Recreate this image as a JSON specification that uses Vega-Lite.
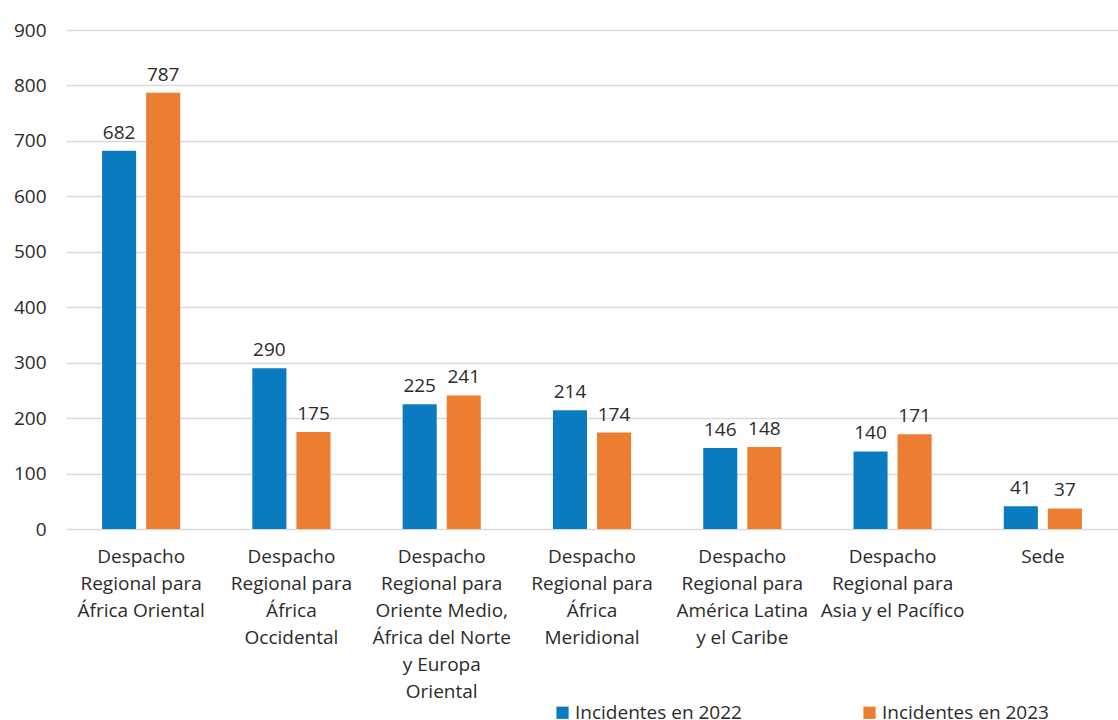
{
  "$schema": "https://vega.github.io/schema/vega-lite/v6.json",
  "width": 1052,
  "height": 499,
  "autosize": {"type": "none"},
  "padding": {"left": 66, "top": 30, "right": 0, "bottom": 191},
  "config": {
    "font": "Open Sans",
    "view": {"stroke": null},
    "axis": {"labelFont": "Open Sans", "labelFontSize": 19, "labelColor": "#2b2b2b"},
    "legend": {"labelFont": "Open Sans", "labelFontSize": 19, "labelColor": "#2b2b2b"}
  },
  "data": {
    "values": [
      {"region": "Despacho|Regional para|África Oriental", "serie": "Incidentes en 2022", "valor": 682},
      {"region": "Despacho|Regional para|África Oriental", "serie": "Incidentes en 2023", "valor": 787},
      {"region": "Despacho|Regional para|África|Occidental", "serie": "Incidentes en 2022", "valor": 290},
      {"region": "Despacho|Regional para|África|Occidental", "serie": "Incidentes en 2023", "valor": 175},
      {"region": "Despacho|Regional para|Oriente Medio,|África del Norte|y Europa|Oriental", "serie": "Incidentes en 2022", "valor": 225},
      {"region": "Despacho|Regional para|Oriente Medio,|África del Norte|y Europa|Oriental", "serie": "Incidentes en 2023", "valor": 241},
      {"region": "Despacho|Regional para|África|Meridional", "serie": "Incidentes en 2022", "valor": 214},
      {"region": "Despacho|Regional para|África|Meridional", "serie": "Incidentes en 2023", "valor": 174},
      {"region": "Despacho|Regional para|América Latina|y el Caribe", "serie": "Incidentes en 2022", "valor": 146},
      {"region": "Despacho|Regional para|América Latina|y el Caribe", "serie": "Incidentes en 2023", "valor": 148},
      {"region": "Despacho|Regional para|Asia y el Pacífico", "serie": "Incidentes en 2022", "valor": 140},
      {"region": "Despacho|Regional para|Asia y el Pacífico", "serie": "Incidentes en 2023", "valor": 171},
      {"region": "Sede", "serie": "Incidentes en 2022", "valor": 41},
      {"region": "Sede", "serie": "Incidentes en 2023", "valor": 37}
    ]
  },
  "encoding": {
    "x": {
      "field": "region", "type": "nominal", "sort": null,
      "scale": {"paddingInner": 0.48, "paddingOuter": 0.24},
      "axis": {"title": null, "labelAngle": 0, "domain": false, "ticks": false, "labelPadding": 18,
               "labelExpr": "split(datum.value, '|')", "labelLineHeight": 27, "labelLimit": 0, "labelBaseline": "top"}
    },
    "xOffset": {"field": "serie", "type": "nominal", "scale": {"paddingInner": 0.227, "paddingOuter": 0}},
    "y": {
      "field": "valor", "type": "quantitative",
      "scale": {"domain": [0, 900], "nice": false},
      "axis": {"title": null, "values": [0,100,200,300,400,500,600,700,800,900], "domain": false, "ticks": false,
               "labelPadding": 20, "gridColor": "#d9d9d9", "gridWidth": 1.5}
    }
  },
  "layer": [
    {
      "mark": {"type": "bar"},
      "encoding": {
        "color": {
          "field": "serie", "type": "nominal",
          "scale": {"range": ["#0a7bc0", "#ed7d31"]},
          "legend": {"title": null, "orient": "none", "direction": "horizontal", "legendX": 487, "legendY": 673,
                     "symbolType": "square", "symbolSize": 150, "symbolStrokeWidth": 0, "columnPadding": 118, "labelOffset": 3, "padding": 0, "labelLimit": 0}
        }
      }
    },
    {
      "mark": {"type": "text", "baseline": "bottom", "dy": -8, "fontSize": 19, "color": "#2b2b2b", "font": "Open Sans"},
      "encoding": {"text": {"field": "valor", "type": "quantitative"}}
    }
  ]
}
